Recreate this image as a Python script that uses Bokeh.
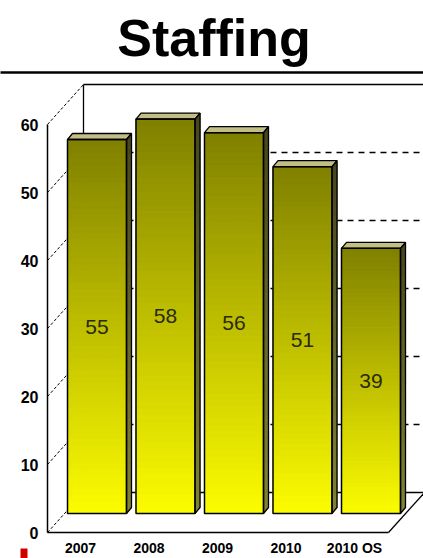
import numpy as np
from bokeh.plotting import figure
from bokeh.models import Range1d, LinearAxis, FixedTicker
from bokeh.core.properties import value
from bokeh.embed import file_html
from bokeh.resources import INLINE

# ---- data ----
categories = ["2007", "2008", "2009", "2010", "2010 OS"]
staff = [55, 58, 56, 51, 39]
y_ticks = [0, 10, 20, 30, 40, 50, 60]
title_text = "Staffing"

# ---- layout (pixel based helpers) ----
W, H = 423, 558
PX_X0 = 80.0    # pixel x of first category
PX_DX = 68.5    # pixels per category
PX_Y0 = 532.0   # pixel y of value 0
PX_DY = 6.8     # pixels per unit


def X(px):
    return (px - PX_X0) / PX_DX


def Y(py):
    return (PX_Y0 - py) / PX_DY


def dX(px):
    return px / PX_DX


def dY(px):
    return px / PX_DY


AXIS_PX = 47
DEPTH_X, DEPTH_Y = 36, 40
WALL_PX = AXIS_PX + DEPTH_X
dd = dY(DEPTH_Y)

FONT = "Liberation Sans"

p = figure(width=W, height=H, x_range=Range1d(X(0), X(W)), y_range=Range1d(Y(H), Y(0)),
           output_backend="svg", toolbar_location=None,
           x_axis_location=None, y_axis_location=None, min_border=0)
p.min_border_left = p.min_border_right = p.min_border_top = p.min_border_bottom = 0
p.outline_line_color = None
p.background_fill_color = "white"
p.border_fill_color = "white"
p.grid.visible = False

ymin, ymax = y_ticks[0], y_ticks[-1]
right_edge = X(W + 5)

# back wall
p.segment(x0=[X(WALL_PX)], y0=[ymin + dd], x1=[X(WALL_PX)], y1=[ymax + dd], line_color="black", line_width=1.3)
p.segment(x0=[X(WALL_PX)], y0=[ymax + dd], x1=[right_edge], y1=[ymax + dd], line_color="black", line_width=1.3)
mid = y_ticks[1:-1]
p.segment(x0=[X(WALL_PX)] * len(mid), y0=[t + dd for t in mid], x1=[right_edge] * len(mid),
          y1=[t + dd for t in mid], line_color="black", line_width=1.5, line_dash="6 5")
# floor
p.segment(x0=[X(WALL_PX)], y0=[ymin + dd], x1=[right_edge], y1=[ymin + dd], line_color="black", line_width=1.3)
p.segment(x0=[X(388)], y0=[ymin], x1=[X(388 + DEPTH_X)], y1=[ymin + dd], line_color="black", line_width=1.3)
# depth lines from front axis to wall
p.segment(x0=[X(AXIS_PX)] * len(y_ticks), y0=y_ticks, x1=[X(WALL_PX)] * len(y_ticks),
          y1=[t + dd for t in y_ticks], line_color="black", line_width=1, line_dash="3 2")

# bars
shift = dX(16.5)
half = dX(29.5)
base = dY(19)
bdx, bdy = dX(5), dY(6)
N = 60
top_c = np.array([128, 128, 0])
bot_c = np.array([252, 252, 0])
side_top = np.array([70, 70, 30])
side_bot = np.array([130, 130, 50])


def hexc(c):
    c = np.clip(np.round(c), 0, 255).astype(int)
    return "#%02x%02x%02x" % tuple(c)


ql, qr, qb, qt, qc = [], [], [], [], []
sx, sy, sc = [], [], []
tx, ty = [], []
for i, v in enumerate(staff):
    cx = i + shift
    xl, xr = cx - half, cx + half
    top = base + v
    edges = np.linspace(base, top, N + 1)
    for k in range(N):
        f = (k + 0.5) / N
        ql.append(xl); qr.append(xr); qb.append(edges[k]); qt.append(edges[k + 1])
        qc.append(hexc(bot_c + (top_c - bot_c) * f))
        sx.append([xr, xr + bdx, xr + bdx, xr])
        sy.append([edges[k], edges[k] + bdy, edges[k + 1] + bdy, edges[k + 1]])
        sc.append(hexc(side_bot + (side_top - side_bot) * f))
    tx.append([xl, xl + bdx, xr + bdx, xr])
    ty.append([top, top + bdy, top + bdy, top])

p.patches(xs=sx, ys=sy, fill_color=sc, line_color=sc, line_width=1)
p.quad(left=ql, right=qr, bottom=qb, top=qt, fill_color=qc, line_color=qc, line_width=1)
p.patches(xs=tx, ys=ty, fill_color="#c2be86", line_color="black", line_width=1.3)
# outlines
cxs = [i + shift for i in range(len(staff))]
p.quad(left=[c - half for c in cxs], right=[c + half for c in cxs], bottom=[base] * len(staff),
       top=[base + v for v in staff], fill_color=None, line_color="black", line_width=1.5)
p.patches(xs=[[c + half, c + half + bdx, c + half + bdx, c + half] for c in cxs],
          ys=[[base, base + bdy, base + v + bdy, base + v] for v in staff],
          fill_color=None, line_color="black", line_width=1.3)

# value labels
p.text(x=cxs, y=[base + v / 2 for v in staff], text=[str(v) for v in staff],
       text_align="center", text_baseline="middle", text_font=value(FONT),
       text_font_size="21px", text_color="#2a2a10")

# axes
yax = LinearAxis(fixed_location=X(AXIS_PX), bounds=(ymin, ymax), ticker=FixedTicker(ticks=y_ticks))
yax.major_tick_out = 0
yax.major_tick_in = 0
yax.minor_tick_out = 0
yax.minor_tick_in = 0
yax.axis_line_width = 1.5
yax.major_label_standoff = 9
yax.major_label_text_font = FONT
yax.major_label_text_font_style = "bold"
yax.major_label_text_font_size = "16px"
yax.major_label_text_color = "black"
p.add_layout(yax, "left")

xax = LinearAxis(fixed_location=0, bounds=(X(AXIS_PX), X(388)), ticker=FixedTicker(ticks=list(range(len(categories)))),
                 major_label_overrides={i: c for i, c in enumerate(categories)})
xax.major_tick_out = 0
xax.major_tick_in = 0
xax.minor_tick_out = 0
xax.minor_tick_in = 0
xax.axis_line_width = 1.5
xax.major_label_standoff = 7
xax.major_label_text_font = FONT
xax.major_label_text_font_style = "bold"
xax.major_label_text_font_size = "14px"
xax.major_label_text_color = "black"
p.add_layout(xax, "below")

# title and rule
p.text(x=[X(213.5)], y=[Y(37)], text=[title_text], text_align="center", text_baseline="middle",
       text_font=value(FONT), text_font_style="bold", text_font_size="52px", text_color="black")
p.segment(x0=[X(-2)], y0=[Y(72)], x1=[X(W + 2)], y1=[Y(72)], line_color="black", line_width=2.5)

# small red marker at bottom left
p.quad(left=[X(20)], right=[X(27)], bottom=[Y(560)], top=[Y(548)], fill_color="#d00000", line_color=None)

open("out.html", "w").write(file_html(p, INLINE))
